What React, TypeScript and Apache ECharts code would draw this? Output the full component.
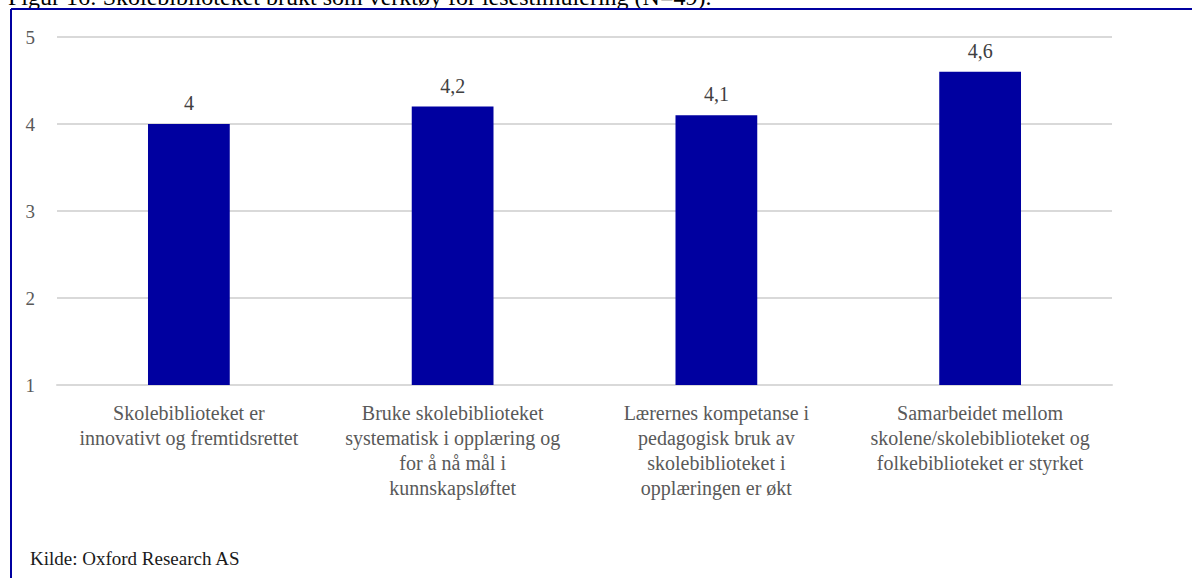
import React, { useEffect, useRef } from "react";
import * as echarts from "echarts";

const categories = [
  "Skolebiblioteket er\ninnovativt og fremtidsrettet",
  "Bruke skolebiblioteket\nsystematisk i opplæring og\nfor å nå mål i\nkunnskapsløftet",
  "Lærernes kompetanse i\npedagogisk bruk av\nskolebiblioteket i\nopplæringen er økt",
  "Samarbeidet mellom\nskolene/skolebiblioteket og\nfolkebiblioteket er styrket",
];
const values = [4, 4.2, 4.1, 4.6];
const titleText = "Figur 16: Skolebiblioteket brukt som verktøy for lesestimulering (N=49).";
const sourceText = "Kilde: Oxford Research AS";

const FONT = "Times New Roman, Liberation Serif, serif";

export default function App() {
  const ref = useRef<HTMLDivElement>(null);
  useEffect(() => {
    const chart = echarts.init(ref.current!, null, { renderer: "svg" });
    chart.setOption({
      animation: false,
      backgroundColor: "#ffffff",
      textStyle: { fontFamily: FONT },
      grid: { left: 57, right: 80, top: 37, bottom: 193, containLabel: false },
      xAxis: {
        type: "category",
        data: categories,
        axisLine: { show: true, lineStyle: { color: "#d9d9d9", width: 2 } },
        axisTick: { show: false },
        axisLabel: {
          interval: 0,
          color: "#595959",
          fontFamily: FONT,
          fontSize: 20,
          lineHeight: 25,
          margin: 15,
        },
      },
      yAxis: {
        type: "value",
        min: 1,
        max: 5,
        interval: 1,
        axisLine: { show: false },
        axisTick: { show: false },
        splitLine: { lineStyle: { color: "#d9d9d9", width: 2 } },
        axisLabel: {
          color: "#595959",
          fontFamily: FONT,
          fontSize: 19,
          margin: 22,
        },
      },
      series: [
        {
          type: "bar",
          data: values,
          barWidth: "31%",
          itemStyle: { color: "#0000a0" },
          label: {
            show: true,
            position: "top",
            distance: 11,
            color: "#404040",
            fontFamily: FONT,
            fontSize: 20,
            formatter: (p: any) => String(p.value).replace(".", ","),
          },
        },
      ],
      graphic: [
        {
          type: "text",
          left: 8,
          top: -15,
          style: {
            text: titleText,
            fill: "#000000",
            fontFamily: FONT,
            fontSize: 24,
          },
        },
        {
          type: "line",
          shape: { x1: 11, y1: 9, x2: 1192, y2: 9 },
          style: { stroke: "#0000a0", lineWidth: 2 },
        },
        {
          type: "line",
          shape: { x1: 11, y1: 9, x2: 11, y2: 578 },
          style: { stroke: "#0000a0", lineWidth: 2 },
        },
        {
          type: "text",
          left: 30,
          top: 549,
          style: {
            text: sourceText,
            fill: "#1a1a1a",
            fontFamily: FONT,
            fontSize: 19,
          },
        },
      ],
    });
    return () => chart.dispose();
  }, []);
  return (
    <div
      ref={ref}
      style={{ position: "fixed", left: 0, top: 0, width: 1192, height: 578 }}
    />
  );
}
